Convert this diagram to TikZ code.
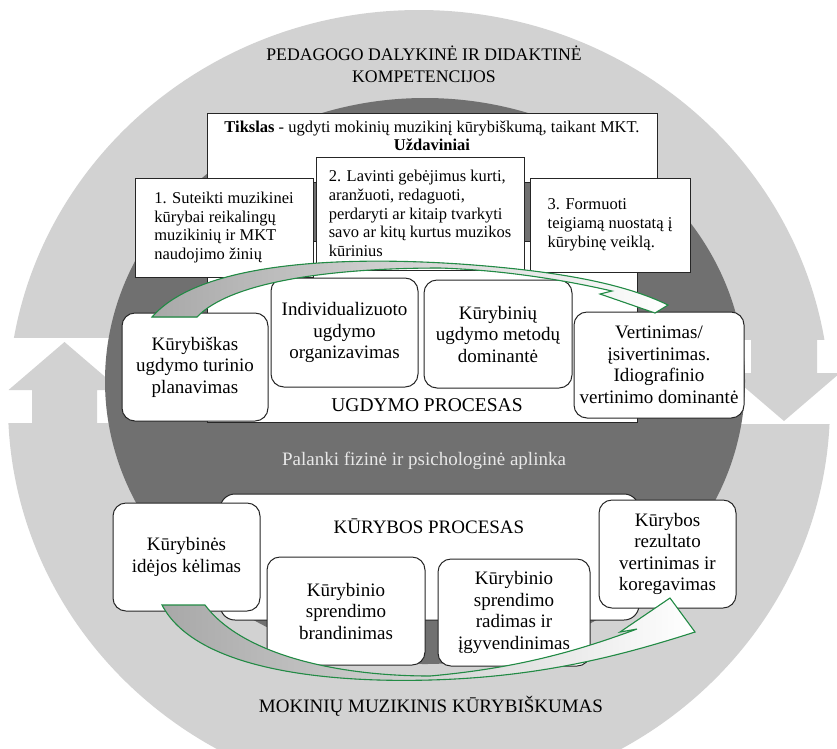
\documentclass[tikz,border=0pt]{standalone}
\usepackage{fontspec}
\setmainfont{Liberation Serif}
\usepackage{xcolor}

\definecolor{ringgray}{RGB}{210,210,210}
\definecolor{coregray}{RGB}{112,112,112}
\definecolor{arrowgreen}{RGB}{34,139,69}
\definecolor{textlight}{RGB}{232,232,232}

\begin{document}
\begin{tikzpicture}[x=1pt,y=-1pt,
  taskbox/.style={draw=black!85,fill=white,line width=1pt,align=left,inner sep=0pt,font=\fontsize{16.5}{18.7}\selectfont},
  procbox/.style={draw=black!85,fill=white,line width=1pt,rounded corners=13pt,align=center,inner sep=0pt,font=\fontsize{19}{21.5}\selectfont},
  caption/.style={font=\fontsize{19}{22}\selectfont,align=center},
  curvedarrow/.style={draw=arrowgreen,line width=1.1pt,left color=ringgray!80!black,right color=white}]
\useasboundingbox (0,0) rectangle (837,748);
\clip (0,0) rectangle (837,748);
% outer ring with the two gaps
\fill[ringgray] (419,405) ellipse (411 and 395);
\fill[white] (0,338) rectangle (212,423);
\fill[white] (628,340) rectangle (837,424);
\fill[ringgray] (32,426)--(32,390)--(8.5,390)--(64.5,342)--(120.5,390)--(97,390)--(97,426)--cycle;
\fill[ringgray] (751,336)--(751,373)--(728,373)--(784,421)--(840,373)--(817,373)--(817,336)--cycle;
\fill[coregray] (425,381) ellipse (320 and 283);
\node[caption,font=\fontsize{17.7}{22}\selectfont] (comp) at (424,64) {PEDAGOGO DALYKINĖ IR DIDAKTINĖ\\KOMPETENCIJOS};
% goal and tasks
\draw[draw=black!85,fill=white,line width=1pt] (207,113) rectangle (657,182);
\node[align=center,font=\fontsize{16.5}{18}\selectfont] (goal) at (432,136) {\textbf{Tikslas} - ugdyti mokinių muzikinį kūrybiškumą, taikant MKT.\\\textbf{Uždaviniai}};
\draw[draw=black!85,fill=white,line width=1pt] (207,241) rectangle (637,422);
\node[taskbox,minimum width=178,minimum height=99] (task1) at (224,227.5) {1. Suteikti muzikinei\\kūrybai reikalingų\\muzikinių ir MKT\\naudojimo žinių};
\node[taskbox,minimum width=160,minimum height=94] (task3) at (610,225) {3. Formuoti\\teigiamą nuostatą į\\kūrybinę veiklą.};
\node[taskbox,minimum width=208,minimum height=113] (task2) at (420,213.5) {2. Lavinti gebėjimus kurti,\\aranžuoti, redaguoti,\\perdaryti ar kitaip tvarkyti\\savo ar kitų kurtus muzikos\\kūrinius};
% ugdymo procesas
\node[procbox,minimum width=146,minimum height=108] (plan) at (195,367) {Kūrybiškas\\ugdymo turinio\\planavimas};
\node[procbox,minimum width=147,minimum height=109] (indiv) at (344.5,332.5) {Individualizuoto\\ugdymo\\organizavimas};
\node[procbox,minimum width=148,minimum height=108] (method) at (498,334) {Kūrybinių\\ugdymo metodų\\dominantė};
\node[procbox,minimum width=170,minimum height=106] (assess) at (659,365) {Vertinimas/\\įsivertinimas.\\Idiografinio\\vertinimo dominantė};
\node[caption,font=\fontsize{19.5}{22}\selectfont] (teach) at (427,405) {UGDYMO PROCESAS};
\node[caption,text=textlight] (env) at (424,461) {Palanki fizinė ir psichologinė aplinka};
% kurybos procesas
\draw[draw=black!85,fill=white,line width=1pt,rounded corners=15pt] (220,494) rectangle (639,620);
\node[caption] (create) at (429,526) {KŪRYBOS PROCESAS};
\node[procbox,minimum width=147,minimum height=108] (idea) at (186.5,557) {Kūrybinės\\idėjos kėlimas};
\node[procbox,minimum width=158,minimum height=108] (mature) at (346,611) {Kūrybinio\\sprendimo\\brandinimas};
\node[procbox,minimum width=152,minimum height=107] (solve) at (514,612.5) {Kūrybinio\\sprendimo\\radimas ir\\įgyvendinimas};
\node[procbox,minimum width=137,minimum height=108] (result) at (667.5,554) {Kūrybos\\rezultato\\vertinimas ir\\koregavimas};
\node[caption] (pupil) at (431,706) {MOKINIŲ MUZIKINIS KŪRYBIŠKUMAS};
% curved arrows
\filldraw[curvedarrow] (152,317) .. controls (200,262) and (340,256) .. (460,264) .. controls (560,271) and (625,284) .. (668,305) -- (655,313) -- (600,294) -- (612,291) .. controls (560,279) and (500,270) .. (440,268) .. controls (330,268) and (230,282) .. (197,317) -- cycle;
\filldraw[curvedarrow] (162,605) .. controls (195,668) and (320,683) .. (430,680) .. controls (540,677) and (620,656) .. (695,632) -- (670,598) -- (620,632) -- (637,629) .. controls (580,650) and (520,668) .. (430,676) .. controls (330,676) and (240,652) .. (205,605) -- cycle;
\end{tikzpicture}
\end{document}
